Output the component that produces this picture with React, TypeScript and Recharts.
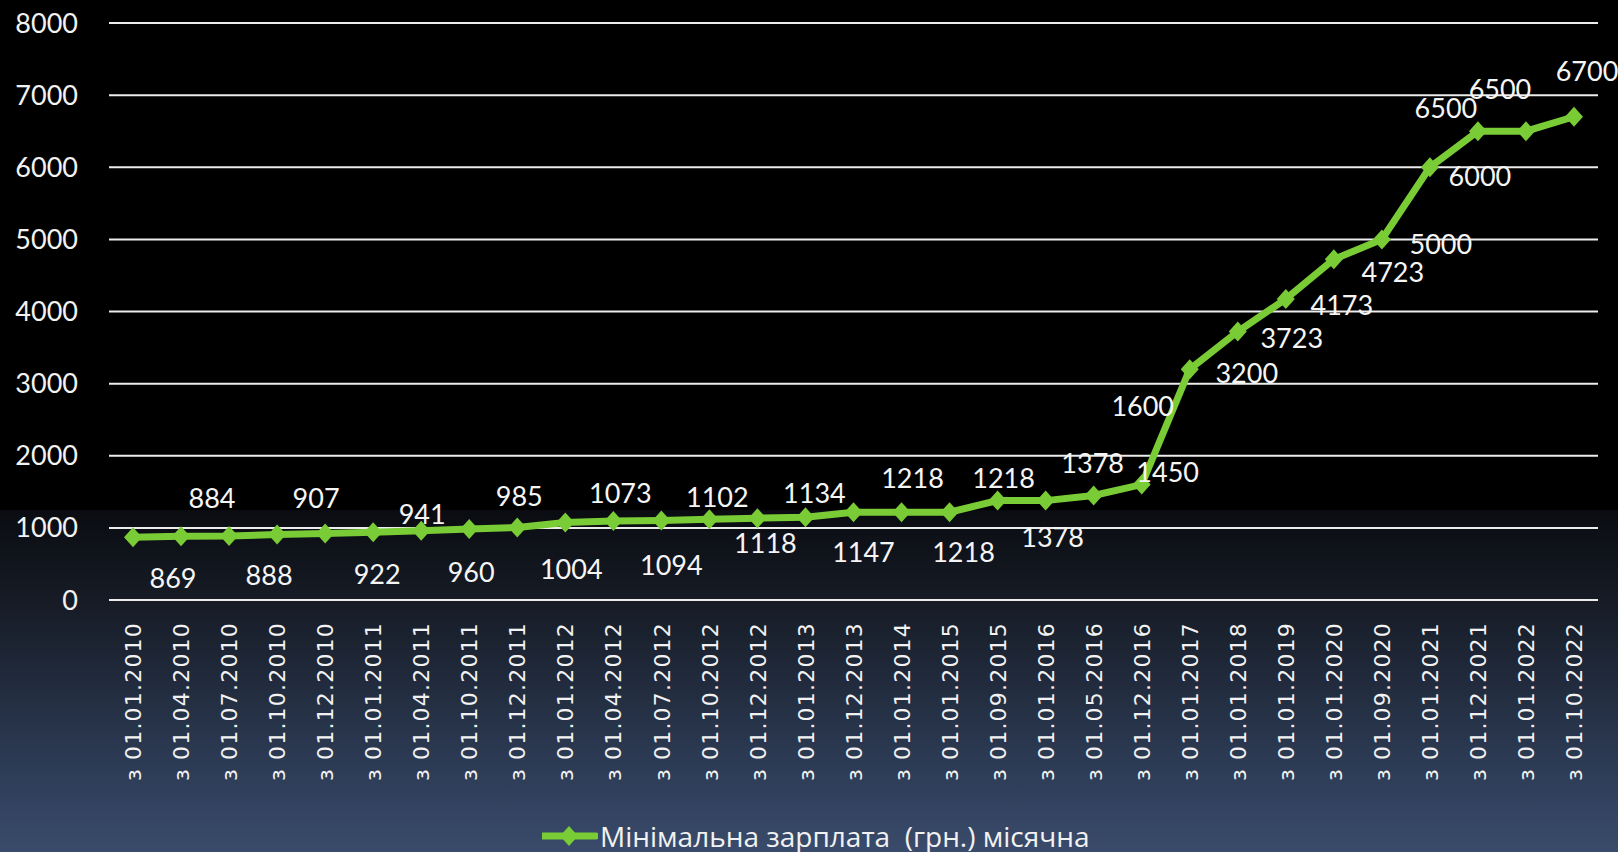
import React from 'react';
import { LineChart, Line, XAxis, YAxis, CartesianGrid, LabelList, Legend } from 'recharts';

const dates = [
  'з 01.01.2010', 'з 01.04.2010', 'з 01.07.2010', 'з 01.10.2010', 'з 01.12.2010',
  'з 01.01.2011', 'з 01.04.2011', 'з 01.10.2011', 'з 01.12.2011', 'з 01.01.2012',
  'з 01.04.2012', 'з 01.07.2012', 'з 01.10.2012', 'з 01.12.2012', 'з 01.01.2013',
  'з 01.12.2013', 'з 01.01.2014', 'з 01.01.2015', 'з 01.09.2015', 'з 01.01.2016',
  'з 01.05.2016', 'з 01.12.2016', 'з 01.01.2017', 'з 01.01.2018', 'з 01.01.2019',
  'з 01.01.2020', 'з 01.09.2020', 'з 01.01.2021', 'з 01.12.2021', 'з 01.01.2022',
  'з 01.10.2022',
];

const wages = [
  869, 884, 888, 907, 922, 941, 960, 985, 1004, 1073, 1094, 1102, 1118, 1134, 1147,
  1218, 1218, 1218, 1378, 1378, 1450, 1600, 3200, 3723, 4173, 4723, 5000, 6000, 6500,
  6500, 6700,
];

const yTicks = [0, 1000, 2000, 3000, 4000, 5000, 6000, 7000, 8000];

const seriesName = 'Мінімальна зарплата  (грн.) місячна';

// where each value label sits relative to its point (the original has them hand-placed)
const labelOffsets: [number, number][] = [
  [40, 40], [31, -39], [40, 39], [39, -37], [52, 40], [49, -19], [50, 41], [50, -33],
  [54, 41], [55, -30], [58, 43], [56, -24], [56, 23], [57, -26], [58, 34], [59, -35],
  [62, 39], [54, -35], [55, 36], [47, -38], [74, -24], [1, -79], [57, 3], [54, 6],
  [56, 5], [59, 12], [59, 4], [50, 8], [-32, -24], [-26, -43], [13, -46],
];

const data = dates.map((d, i) => ({ date: d, value: wages[i] }));

const GREEN = '#79cc35';
const numFont = 'Lato, "Open Sans", sans-serif';

const DateTick = (props: any) => {
  const { x, y, payload } = props;
  return (
    <text
      transform={`translate(${x},${y + 14}) rotate(-90)`}
      textAnchor="end"
      dy="0.37em"
      fill="#f2f2f2"
      fontSize={22}
      letterSpacing={1.2}
      fontFamily='"DejaVu Sans", sans-serif'
    >
      {payload.value}
    </text>
  );
};

const ValueLabel = (props: any) => {
  const { x, y, value, index } = props;
  const [dx, dy] = labelOffsets[index] || [0, -30];
  return (
    <text
      x={x + dx}
      y={y + dy}
      textAnchor="middle"
      dominantBaseline="central"
      fill="#f5f5f5"
      fontSize={27}
      fontFamily={numFont}
    >
      {value}
    </text>
  );
};

const Diamond = (props: any) => {
  const { cx, cy } = props;
  if (cx == null || cy == null) return null;
  const r = 10;
  return (
    <path
      d={`M${cx},${cy - r} L${cx + r - 1},${cy} L${cx},${cy + r} L${cx - r + 1},${cy} Z`}
      fill={GREEN}
    />
  );
};

const LegendContent = () => (
  <div style={{ display: 'flex', alignItems: 'center', justifyContent: 'flex-start', paddingLeft: 542 }}>
    <svg width={56} height={24}>
      <line x1={0} y1={12} x2={54} y2={12} stroke={GREEN} strokeWidth={7} strokeLinecap="round" />
      <path d="M27,2 L36,12 L27,22 L18,12 Z" fill={GREEN} />
    </svg>
    <span
      style={{
        color: '#f2f2f2',
        fontSize: 28,
        lineHeight: 1,
        fontFamily: '"Open Sans", sans-serif',
        whiteSpace: 'pre',
        marginLeft: 2,
      }}
    >
      {seriesName}
    </span>
  </div>
);

export default function App() {
  return (
    <div
      style={{
        position: 'absolute',
        left: 0,
        top: 0,
        width: 1618,
        height: 852,
        background:
          'linear-gradient(to bottom, #000 0%, #000 59.8%, #0a0c11 59.9%, #161b25 70.4%, #30405c 92.7%, #3a4b6b 100%)',
      }}
    >
      <LineChart width={1618} height={852} data={data} margin={{ top: 23, right: 20, bottom: 0, left: 0 }}>
        <CartesianGrid vertical={false} stroke="#ececec" strokeWidth={2} />
        <XAxis
          dataKey="date"
          interval={0}
          height={252}
          padding={{ left: 24, right: 24 }}
          axisLine={{ stroke: '#ececec', strokeWidth: 2 }}
          tickLine={false}
          tick={<DateTick />}
        />
        <YAxis
          width={109}
          domain={[0, 8000]}
          ticks={yTicks}
          axisLine={false}
          tickLine={false}
          tickSize={0}
          tickMargin={31}
          tick={{ fill: '#f2f2f2', fontSize: 27, fontFamily: numFont }}
        />
        <Legend
          layout="horizontal"
          verticalAlign="middle"
          align="center"
          wrapperStyle={{ top: 822, left: 0, width: 1618 }}
          content={<LegendContent />}
        />
        <Line
          type="linear"
          dataKey="value"
          name={seriesName}
          stroke={GREEN}
          strokeWidth={7}
          dot={<Diamond />}
          activeDot={false}
          isAnimationActive={false}
        >
          <LabelList dataKey="value" content={<ValueLabel />} />
        </Line>
      </LineChart>
    </div>
  );
}
